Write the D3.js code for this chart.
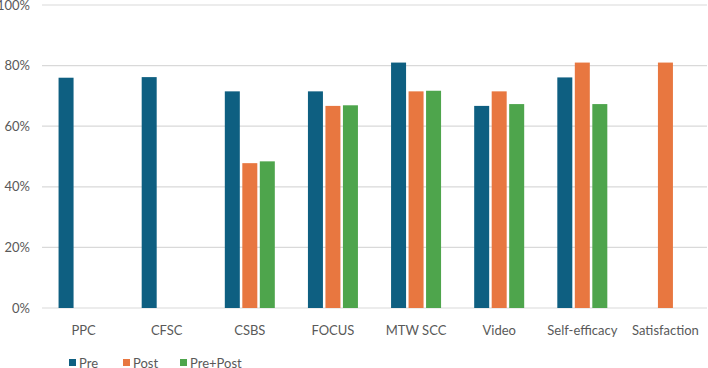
<!DOCTYPE html>
<html lang="en">
<head>
<meta charset="UTF-8">
<title>Pre / Post scores</title>
<style>
    body { margin: 0; background: #fff; }
    svg text { font-family: Lato, "Open Sans", sans-serif; fill: #595959; }
</style>
</head>
<body>
<div id="chart"></div>
<script src="https://cdn.jsdelivr.net/npm/d3@7"></script>
<script>
    // chart data
    const categories = ["PPC", "CFSC", "CSBS", "FOCUS", "MTW SCC", "Video", "Self-efficacy", "Satisfaction"];
    const seriesNames = ["Pre", "Post", "Pre+Post"];
    const preValues     = [0.760, 0.762, 0.715, 0.715, 0.810, 0.667, 0.761, null];
    const postValues    = [null, null, 0.478, 0.667, 0.715, 0.715, 0.810, 0.810];
    const prePostValues = [null, null, 0.484, 0.669, 0.717, 0.673, 0.673, null];
    const yTicks = [0, 0.2, 0.4, 0.6, 0.8, 1.0];

    const colors = { "Pre": "#0e5f81", "Post": "#e87740", "Pre+Post": "#4ea54c" };
    const valuesBySeries = { "Pre": preValues, "Post": postValues, "Pre+Post": prePostValues };

    const W = 708, H = 368;
    const margin = { top: 5, right: 1, bottom: 60, left: 42 };
    const width = W - margin.left - margin.right,
          height = H - margin.top - margin.bottom;

    const svg = d3.select("#chart").append("svg")
        .attr("width", W)
        .attr("height", H);

    const g = svg.append("g")
        .attr("transform", `translate(${margin.left},${margin.top})`);

    const x0 = d3.scaleBand()
        .domain(categories)
        .range([0, width])
        .padding(0);

    const mid = x0.bandwidth() / 2;
    const x1 = d3.scaleBand()
        .domain(seriesNames)
        .range([mid - 25, mid + 25])
        .paddingInner(0.143);

    const y = d3.scaleLinear()
        .domain([0, 1])
        .range([height, 0]);

    // gridlines
    g.append("g")
        .selectAll("line")
        .data(yTicks)
        .enter().append("line")
        .attr("x1", 0)
        .attr("x2", width)
        .attr("y1", d => y(d))
        .attr("y2", d => y(d))
        .attr("stroke", "#d9d9d9")
        .attr("stroke-width", 1.2);

    // y labels
    g.append("g")
        .selectAll("text")
        .data(yTicks)
        .enter().append("text")
        .attr("x", -12)
        .attr("y", d => y(d))
        .attr("dy", "0.35em")
        .attr("text-anchor", "end")
        .style("font-size", "13px")
        .text(d => d3.format(".0%")(d));

    // bars
    const groups = g.selectAll(".cat")
        .data(categories)
        .enter().append("g")
        .attr("class", "cat")
        .attr("transform", d => `translate(${x0(d)},0)`);

    groups.selectAll("rect")
        .data((c, i) => seriesNames.map(s => ({ key: s, value: valuesBySeries[s][i] })).filter(d => d.value != null))
        .enter().append("rect")
        .attr("x", d => x1(d.key))
        .attr("width", x1.bandwidth())
        .attr("y", d => y(d.value))
        .attr("height", d => y(0) - y(d.value))
        .attr("fill", d => colors[d.key]);

    // x labels
    g.append("g")
        .selectAll("text")
        .data(categories)
        .enter().append("text")
        .attr("x", d => x0(d) + mid)
        .attr("y", height + 22)
        .attr("dy", "0.35em")
        .attr("text-anchor", "middle")
        .style("font-size", "13px")
        .text(d => d);

    // legend
    const legendX = [69, 123, 180];
    const legend = svg.append("g")
        .selectAll("g")
        .data(seriesNames)
        .enter().append("g")
        .attr("transform", (d, i) => `translate(${legendX[i]},359)`);

    legend.append("rect")
        .attr("width", 7)
        .attr("height", 7)
        .attr("fill", d => colors[d]);

    legend.append("text")
        .attr("x", 10)
        .attr("y", 4)
        .attr("dy", "0.35em")
        .style("font-size", "13px")
        .text(d => d);
</script>
</body>
</html>
